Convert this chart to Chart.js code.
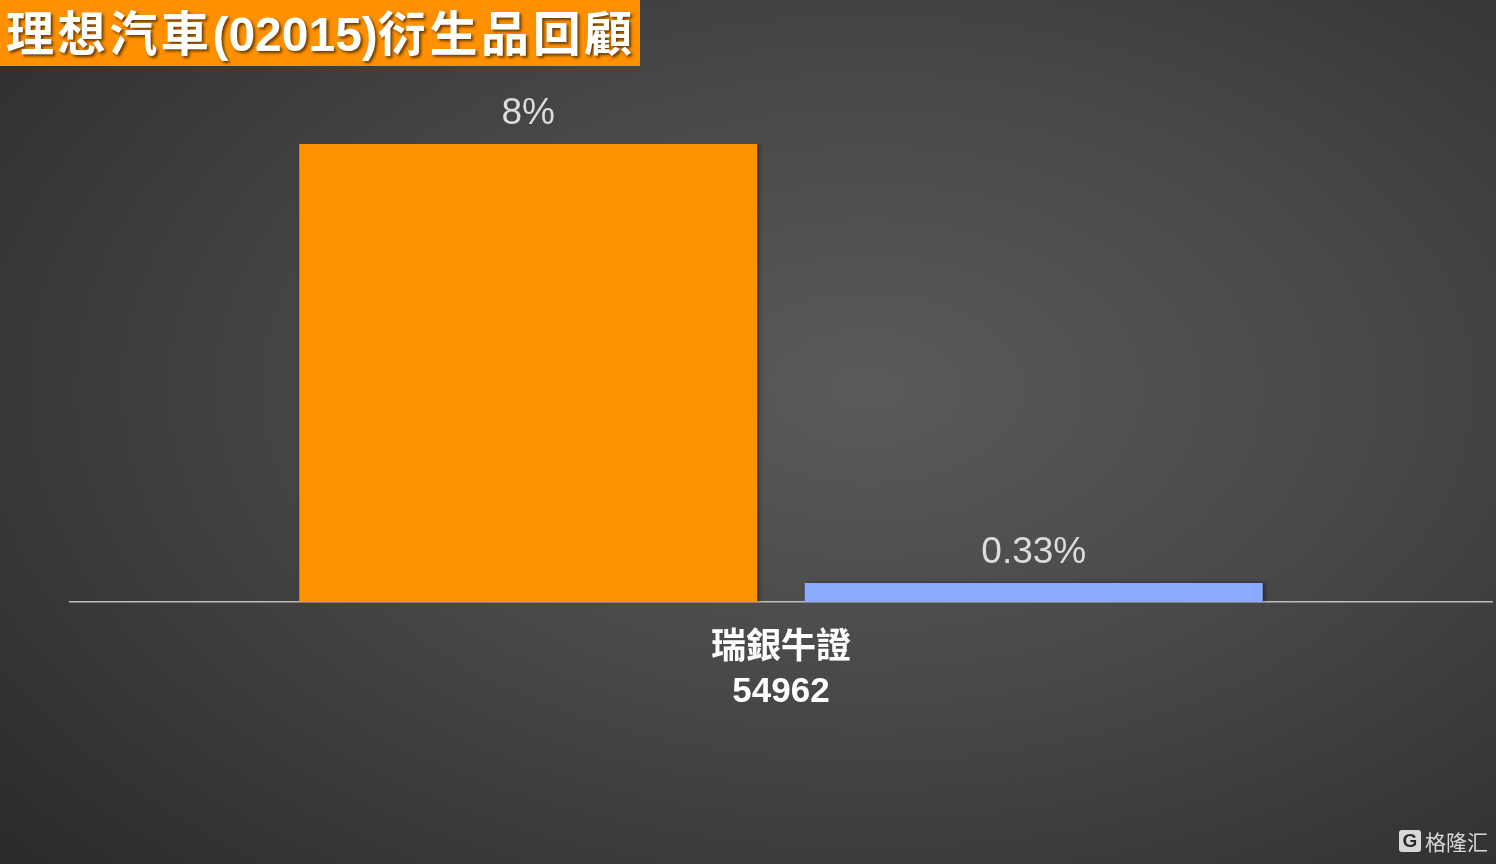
<!DOCTYPE html>
<html>
<head>
<meta charset="utf-8">
<script src="https://cdn.jsdelivr.net/npm/chart.js@4"></script>
<style>
  html, body { margin: 0; padding: 0; }
  body {
    width: 1496px; height: 864px; overflow: hidden; position: relative;
    background: radial-gradient(ellipse 75% 80% at 58% 45%, #5a5a5a 0%, #484848 45%, #2c2c2c 100%);
    font-family: "Liberation Sans", "Noto Sans CJK TC", sans-serif;
  }
  #title {
    position: absolute; left: 0; top: 0; width: 640px; height: 66px;
    background: #ff9000; color: #fff; font-weight: bold; font-size: 48px;
    line-height: 70px; padding-left: 6px; box-sizing: border-box; letter-spacing: 3.6px;
    text-shadow: 2px 2px 3px rgba(0,0,0,0.6); white-space: nowrap;
  }
  #title .num { letter-spacing: 0; }
  #mark {
    position: absolute; right: 8px; bottom: 8px; color: #d8d8d8;
    font-size: 21px; font-family: "Noto Sans CJK SC", sans-serif; display: flex; align-items: center;
  }
  #mark span.g {
    display: inline-block; width: 22px; height: 22px; background: #d8d8d8; color: #2a2a2a;
    font: bold 19px "Liberation Sans", sans-serif; text-align: center; line-height: 22px;
    border-radius: 3px; margin-right: 4px;
  }
  canvas { position: absolute; left: 0; top: 0; }
</style>
</head>
<body>
<canvas id="chart" width="1496" height="864"></canvas>
<div id="title">理想汽車<span class="num">(02015)</span>衍生品回顧</div>
<div id="mark"><span class="g">G</span>格隆汇</div>
<script>
const categories = [["瑞銀牛證", "54962"]];
const seriesA = [8];
const seriesB = [0.33];
const valueLabelsA = ["8%"];
const valueLabelsB = ["0.33%"];

// draw value labels above each bar
const barLabels = {
    id: "barLabels",
    afterDatasetsDraw(chart) {
        const ctx = chart.ctx;
        ctx.save();
        ctx.fillStyle = "#dcdcdc";
        ctx.font = "37px 'Liberation Sans', sans-serif";
        ctx.textAlign = "center";
        ctx.textBaseline = "middle";
        chart.data.datasets.forEach((ds, i) => {
            chart.getDatasetMeta(i).data.forEach((bar, j) => {
                ctx.fillText(ds.valueLabels[j], bar.x, bar.y - 30);
            });
        });
        ctx.restore();
    }
};

const barShadow = {
    id: "barShadow",
    beforeDatasetsDraw(chart) {
        chart.ctx.save();
        chart.ctx.shadowColor = "rgba(0,0,0,0.45)";
        chart.ctx.shadowBlur = 4;
        chart.ctx.shadowOffsetX = 2;
        chart.ctx.shadowOffsetY = 0;
    },
    afterDatasetsDraw(chart) {
        chart.ctx.restore();
    }
};

new Chart(document.getElementById("chart").getContext("2d"), {
    type: "bar",
    data: {
        labels: categories,
        datasets: [
            { data: seriesA, valueLabels: valueLabelsA, backgroundColor: "#ff9200" },
            { data: seriesB, valueLabels: valueLabelsB, backgroundColor: "#8aaaff" }
        ]
    },
    options: {
        responsive: false,
        animation: false,
        layout: { padding: { left: 70, right: 4, top: 144, bottom: 134 } },
        plugins: { legend: { display: false }, tooltip: { enabled: false } },
        datasets: { bar: { categoryPercentage: 0.711, barPercentage: 0.906 } },
        scales: {
            x: {
                grid: { display: false },
                border: { display: true, color: "#bdbdbd", width: 1.5 },
                ticks: {
                    color: "#ffffff",
                    padding: 16,
                    font: { family: "'Liberation Sans', 'Noto Sans CJK TC', sans-serif", size: 35, weight: "bold", lineHeight: 1.257 }
                }
            },
            y: { display: false, min: 0, max: 8 }
        }
    },
    plugins: [barShadow, barLabels]
});
</script>
</body>
</html>
